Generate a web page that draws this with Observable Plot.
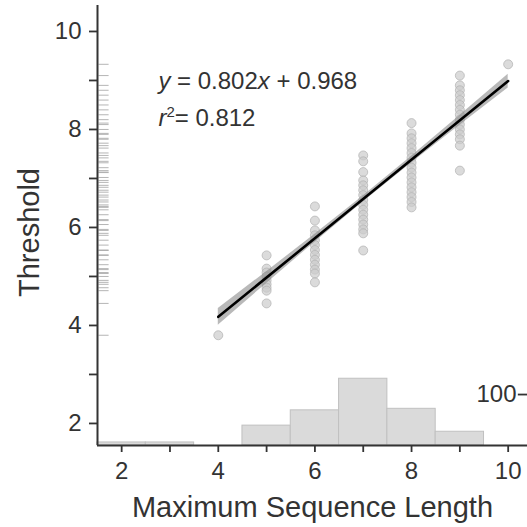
<!DOCTYPE html>
<html><head><meta charset="utf-8">
<script src="https://cdn.jsdelivr.net/npm/d3@7"></script>
<script src="https://cdn.jsdelivr.net/npm/@observablehq/plot@0.6"></script>
<style>
body{margin:0;background:#fff;}
#chart svg{display:block;}
</style></head><body><div id="chart"></div>
<script>
// ---- data ----
const seqLength = [4, 5, 6, 7, 8, 9, 10];
const thr4 = [3.80];
const thr5 = [5.43, 5.16, 5.08, 5.00, 4.92, 4.84, 4.77, 4.71, 4.45];
const thr6 = [6.43, 6.14, 5.94, 5.84, 5.74, 5.64, 5.54, 5.44, 5.34, 5.24, 5.14, 5.06, 4.88];
const thr7 = [7.47, 7.35, 7.13, 6.96, 6.86, 6.76, 6.66, 6.56, 6.46, 6.36, 6.26, 6.16, 6.06, 5.96, 5.88, 5.53];
const thr8 = [8.13, 7.92, 7.82, 7.72, 7.62, 7.52, 7.42, 7.32, 7.22, 7.12, 7.02, 6.92, 6.82, 6.72, 6.62, 6.52, 6.41];
const thr9 = [9.10, 8.90, 8.80, 8.70, 8.60, 8.50, 8.40, 8.30, 8.20, 8.10, 8.00, 7.90, 7.80, 7.67, 7.16];
const thr10 = [9.33];

const slope = 0.802, intercept = 0.968, r2 = 0.812;
const fitRange = [4, 10];
const bandX = [4, 5, 6, 7, 8, 9, 10];
const bandHalf = [0.17, 0.12, 0.08, 0.06, 0.07, 0.10, 0.14];

const binLo = [1.5, 2.5, 3.5, 4.5, 5.5, 6.5, 7.5, 8.5, 9.5];
const binCount = [6, 6, 0, 39, 69, 131, 72, 27, 0];
const histTick = [100];

const xTicks = [2, 3, 4, 5, 6, 7, 8, 9, 10];
const yTicks = [2, 3, 4, 5, 6, 7, 8, 9, 10];

// ---- build tables ----
const groups = [thr4, thr5, thr6, thr7, thr8, thr9, thr10];
const points = seqLength.flatMap((x, i) => groups[i].map(y => ({x, y})));
const xDomain = [1.5, 10.4], yDomain = [1.55, 10.53];
const countUnit = 1.04 / 100; // histogram counts -> threshold units
const bins = binLo.map((lo, i) => ({x1: lo, x2: lo + 1, n: binCount[i]})).filter(d => d.n > 0);
const band = bandX.map((x, i) => ({x, lo: slope * x + intercept - bandHalf[i], hi: slope * x + intercept + bandHalf[i]}));
const font = "'Liberation Sans', Arial, Helvetica, sans-serif";
const eqText = `y = ${slope}x + ${intercept}`;
const r2Text = `r2= ${r2}`;

const chart = Plot.plot({
  width: 527, height: 527,
  marginTop: 5, marginRight: 0, marginBottom: 82, marginLeft: 97,
  style: {fontFamily: font, color: "#333", background: "#fff"},
  x: {domain: xDomain},
  y: {domain: yDomain},
  marks: [
    Plot.rect(bins, {x1: "x1", x2: "x2", y1: yDomain[0], y2: d => yDomain[0] + d.n * countUnit, fill: "#dadada", stroke: "#c0c0c0", strokeWidth: 1}),
    Plot.ruleY(points, {y: "y", x1: 1.53, x2: 1.74, stroke: "#a8a8a8", strokeWidth: 1, strokeOpacity: 0.85}),
    Plot.dot(points, {x: "x", y: "y", r: 4.5, fill: "#cccccc", fillOpacity: 0.7, stroke: "#b0b0b0", strokeOpacity: 0.7, strokeWidth: 1}),
    Plot.areaY(band, {x: "x", y1: "lo", y2: "hi", fill: "#8a8a8a", fillOpacity: 0.6}),
    Plot.line(fitRange, {x: d => d, y: d => slope * d + intercept, stroke: "#000", strokeWidth: 2.6}),
    Plot.ruleX([xDomain[0]], {stroke: "#333", strokeWidth: 2}),
    Plot.ruleY([yDomain[0]], {stroke: "#333", strokeWidth: 2}),
    Plot.axisX({ticks: xTicks, tickFormat: d => d % 2 === 0 ? String(d) : "", tickSize: 7, tickPadding: 9, fontSize: 24, stroke: "#333", strokeWidth: 1.8, label: null}),
    Plot.axisY({ticks: yTicks, tickFormat: d => d % 2 === 0 ? String(d) : "", tickSize: 8, tickPadding: 8, fontSize: 24, stroke: "#333", strokeWidth: 1.8, label: null}),
    Plot.text(histTick, {x: xDomain[1], y: d => yDomain[0] + d * countUnit, text: d => String(d), textAnchor: "end", dx: -11, fontSize: 24, fill: "#333"}),
    Plot.ruleY(histTick, {y: d => yDomain[0] + d * countUnit, x1: xDomain[1] - 0.19, x2: xDomain[1], stroke: "#333", strokeWidth: 1.8}),
    Plot.text([eqText], {x: 2.76, y: 8.98, text: d => d, textAnchor: "start", fontSize: 24, fill: "#333"}),
    Plot.text([r2Text], {x: 2.76, y: 8.23, text: d => d, textAnchor: "start", fontSize: 24, fill: "#333"}),
    Plot.text(["Maximum Sequence Length"], {frameAnchor: "bottom", text: d => d, textAnchor: "middle", lineAnchor: "middle", dy: 62, fontSize: 29, fill: "#333"}),
    Plot.text(["Threshold"], {frameAnchor: "left", text: d => d, rotate: -90, textAnchor: "middle", lineAnchor: "middle", dx: -68, dy: 7, fontSize: 29, fill: "#333"})
  ]
});

d3.select(chart).selectAll("text").each(function() {
  const t = this.textContent;
  if (t === eqText) {
    this.innerHTML = `<tspan font-style="italic">y</tspan> = ${slope}<tspan font-style="italic">x</tspan> + ${intercept}`;
  } else if (t === r2Text) {
    this.innerHTML = `<tspan font-style="italic">r</tspan><tspan dy="-9" font-size="15">2</tspan><tspan dy="9">= ${r2}</tspan>`;
  }
});

document.getElementById("chart").appendChild(chart);
</script>
</body></html>
